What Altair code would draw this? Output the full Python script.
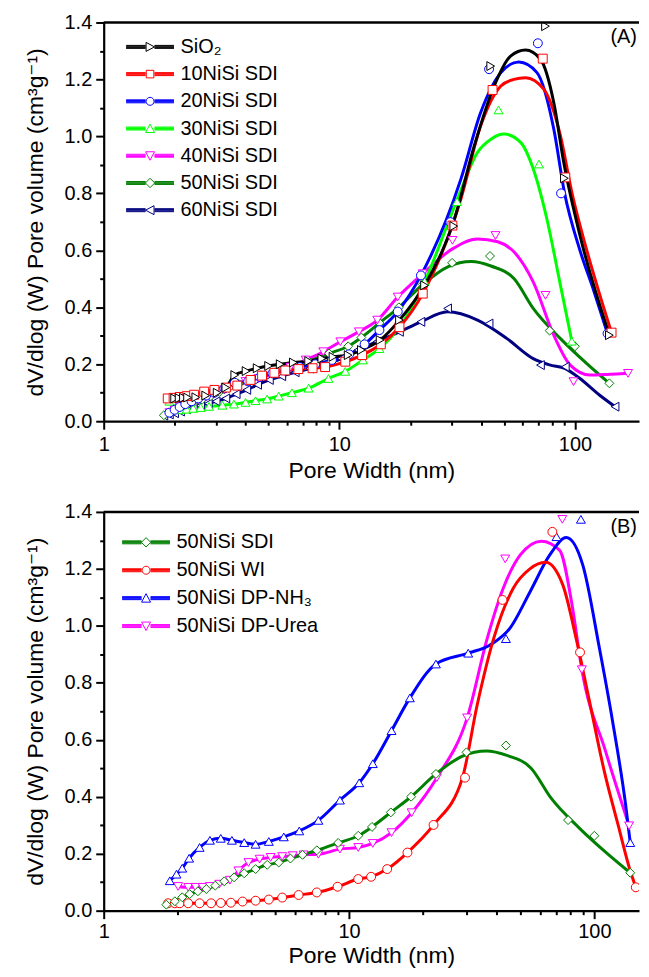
import altair as alt
import pandas as pd

FONT = "Liberation Sans, Arial, DejaVu Sans, sans-serif"

# ---------------- Panel A data ----------------
A_series = ["SiO₂", "10NiSi SDI", "20NiSi SDI", "30NiSi SDI", "40NiSi SDI", "50NiSi SDI", "60NiSi SDI"]
A_colors = ["#000000", "#ff0000", "#0000ff", "#00ff00", "#ff00ff", "#008000", "#000080"]
A_shapes = ["triangle-right", "square", "circle", "triangle-up", "triangle-down", "diamond", "triangle-left"]

sio2_x = [2.0, 2.09, 2.18, 2.27, 2.46, 2.71, 3.03, 3.3, 3.6, 4.02, 4.48, 5.01, 5.61, 6.38, 7.41, 8.43, 9.4, 10.9, 12.4, 14.9, 18.0, 23.0, 30.6, 43.9, 75.0, 90.2, 140]
sio2_y = [0.080, 0.081, 0.082, 0.083, 0.084, 0.090, 0.100, 0.118, 0.162, 0.176, 0.186, 0.194, 0.200, 0.206, 0.211, 0.220, 0.226, 0.232, 0.250, 0.285, 0.355, 0.477, 0.685, 1.247, 1.387, 0.853, 0.302]
sio2_cx = [23.0, 30.8, 37.4, 45.4, 53.3, 61.7, 71.4, 81.3, 89.6, 105.2, 140]
sio2_cy = [0.477, 0.71, 0.967, 1.177, 1.282, 1.303, 1.271, 1.119, 0.909, 0.65, 0.302]

ni10_x = [1.87, 1.98, 2.1, 2.25, 2.42, 2.67, 2.95, 3.3, 3.69, 4.2, 4.7, 5.3, 5.9, 6.7, 7.7, 8.7, 10.6, 12.5, 15.0, 18.0, 22.6, 30.2, 44.7, 73.0, 91.0, 143]
ni10_y = [0.080, 0.082, 0.085, 0.088, 0.093, 0.104, 0.110, 0.118, 0.125, 0.145, 0.160, 0.170, 0.178, 0.183, 0.186, 0.190, 0.209, 0.232, 0.270, 0.330, 0.448, 0.687, 1.163, 1.273, 0.856, 0.311]
ni10_cx = [22.6, 32.8, 39.8, 48.5, 55.0, 61.7, 73.7, 86.8, 97.0, 112, 127, 143]
ni10_cy = [0.448, 0.78, 1.037, 1.177, 1.200, 1.206, 1.166, 1.002, 0.804, 0.603, 0.448, 0.311]

ni20_x = [1.9, 2.0, 2.1, 2.22, 2.36, 2.52, 2.72, 2.95, 3.25, 3.6, 4.1, 4.6, 5.2, 5.9, 6.8, 7.9, 9.3, 11.0, 12.8, 14.8, 17.7, 22.2, 29.6, 43.2, 69.6, 87.3, 137.5]
ni20_y = [0.030, 0.040, 0.050, 0.060, 0.070, 0.080, 0.090, 0.100, 0.115, 0.135, 0.140, 0.155, 0.168, 0.178, 0.190, 0.200, 0.215, 0.235, 0.270, 0.320, 0.385, 0.512, 0.699, 1.236, 1.327, 0.800, 0.308]
ni20_cx = [22.2, 32.8, 39.8, 48.5, 57.8, 69.0, 81.3, 90.2, 105, 120, 137.5]
ni20_cy = [0.512, 0.85, 1.084, 1.224, 1.261, 1.224, 1.026, 0.804, 0.60, 0.46, 0.308]

ni30_x = [1.9, 2.0, 2.12, 2.25, 2.4, 2.58, 2.8, 3.19, 3.57, 4.0, 4.41, 4.94, 5.53, 6.29, 7.41, 8.99, 10.6, 12.6, 14.8, 18.0, 23.0, 31.6, 47.4, 70.4, 97.0]
ni30_y = [0.070, 0.045, 0.040, 0.042, 0.045, 0.048, 0.052, 0.056, 0.060, 0.066, 0.072, 0.078, 0.088, 0.100, 0.116, 0.150, 0.175, 0.215, 0.255, 0.330, 0.490, 0.771, 1.093, 0.903, 0.281]
ni30_cx = [23.0, 31.7, 38.6, 44.0, 50.0, 58.8, 66.5, 76.0, 86.8, 97.0]
ni30_cy = [0.49, 0.78, 0.944, 0.99, 1.008, 0.979, 0.886, 0.71, 0.477, 0.281]

ni40_x = [1.9, 2.0, 2.1, 2.22, 2.36, 2.52, 2.72, 2.95, 3.25, 3.6, 4.0, 4.54, 5.35, 6.2, 7.2, 8.55, 10.1, 12.1, 14.5, 17.7, 22.6, 30.2, 46.0, 75.0, 98.6, 168]
ni40_y = [0.030, 0.040, 0.050, 0.058, 0.066, 0.075, 0.085, 0.095, 0.110, 0.125, 0.140, 0.150, 0.168, 0.190, 0.215, 0.244, 0.279, 0.314, 0.355, 0.436, 0.518, 0.635, 0.652, 0.442, 0.139, 0.168]
ni40_cx = [22.6, 30.2, 38.6, 47.0, 55.2, 66.5, 81.3, 95.5, 116, 141, 168]
ni40_cy = [0.518, 0.605, 0.64, 0.63, 0.594, 0.489, 0.302, 0.197, 0.162, 0.165, 0.168]

ni50_x = [1.80, 1.95, 2.09, 2.24, 2.42, 2.62, 2.85, 3.1, 3.4, 3.74, 4.16, 4.64, 5.17, 5.77, 6.46, 7.39, 9.03, 10.9, 12.4, 14.8, 17.9, 22.6, 30.1, 43.6, 78.1, 100, 140]
ni50_y = [0.021, 0.033, 0.047, 0.058, 0.068, 0.076, 0.088, 0.103, 0.117, 0.131, 0.146, 0.161, 0.169, 0.183, 0.196, 0.212, 0.238, 0.263, 0.294, 0.345, 0.400, 0.480, 0.556, 0.580, 0.318, 0.263, 0.133]
ni50_cx = [22.6, 29.0, 36.3, 44.0, 55.2, 66.5, 86.8, 112, 140]
ni50_cy = [0.48, 0.543, 0.561, 0.545, 0.50, 0.396, 0.29, 0.203, 0.133]

ni60_x = [1.8, 1.9, 2.0, 2.12, 2.25, 2.4, 2.58, 2.78, 3.0, 3.3, 3.65, 4.05, 4.5, 5.05, 5.7, 6.5, 7.5, 8.7, 10.2, 12.0, 14.5, 18.0, 22.2, 28.8, 43.2, 71.4, 91.0, 148]
ni60_y = [0.020, 0.024, 0.028, 0.034, 0.042, 0.048, 0.055, 0.062, 0.070, 0.080, 0.095, 0.110, 0.128, 0.145, 0.158, 0.172, 0.185, 0.200, 0.220, 0.250, 0.280, 0.314, 0.349, 0.396, 0.343, 0.197, 0.191, 0.051]
ni60_cx = [22.2, 28.8, 38.6, 51.5, 66.5, 78.0, 91.0, 105, 127, 148]
ni60_cy = [0.349, 0.384, 0.355, 0.29, 0.22, 0.198, 0.185, 0.15, 0.092, 0.051]

# ---------------- Panel B data ----------------
B_series = ["50NiSi SDI", "50NiSi WI", "50NiSi DP-NH₃", "50NiSi DP-Urea"]
B_colors = ["#008000", "#ff0000", "#0000ff", "#ff00ff"]
B_shapes = ["diamond", "circle", "triangle-up", "triangle-down"]

wi_x = [1.83, 1.95, 2.04, 2.21, 2.46, 2.74, 3.0, 3.3, 3.68, 4.16, 4.71, 5.34, 6.23, 7.39, 8.98, 10.9, 12.3, 14.3, 17.3, 22.1, 29.7, 42.2, 67.4, 87.4, 147.5]
wi_y = [0.026, 0.026, 0.026, 0.026, 0.026, 0.026, 0.027, 0.028, 0.032, 0.035, 0.039, 0.046, 0.055, 0.064, 0.084, 0.111, 0.119, 0.146, 0.204, 0.301, 0.467, 1.091, 1.330, 0.907, 0.082]
wi_cx = [22.1, 29.0, 33.3, 38.9, 46.7, 54.6, 63.2, 74.4, 84.2, 95.5, 109.7, 125, 140, 147.5]
wi_cy = [0.301, 0.467, 0.723, 0.957, 1.132, 1.20, 1.223, 1.143, 0.957, 0.735, 0.49, 0.30, 0.14, 0.082]

nh3_x = [1.86, 1.98, 2.09, 2.23, 2.46, 2.71, 3.0, 3.33, 3.74, 4.16, 4.71, 5.42, 6.27, 7.5, 9.18, 11.0, 12.5, 14.9, 17.7, 22.6, 30.6, 43.6, 70.1, 88.1, 140]
nh3_y = [0.105, 0.128, 0.149, 0.184, 0.222, 0.247, 0.254, 0.247, 0.239, 0.233, 0.243, 0.259, 0.280, 0.317, 0.388, 0.449, 0.516, 0.632, 0.747, 0.866, 0.904, 0.955, 1.313, 1.374, 0.239]
nh3_cx = [30.6, 37.6, 45.3, 54.7, 65.7, 76.8, 89.7, 104.8, 118.6, 134, 140]
nh3_cy = [0.904, 0.933, 0.992, 1.12, 1.248, 1.31, 1.213, 0.922, 0.665, 0.373, 0.239]

urea_x = [2.01, 2.21, 2.37, 2.53, 2.71, 2.96, 3.27, 3.54, 3.89, 4.32, 4.79, 5.34, 5.89, 6.53, 7.5, 9.18, 10.9, 12.5, 14.9, 18.0, 22.8, 30.3, 43.3, 74.0, 88.9, 138.5]
urea_y = [0.085, 0.082, 0.082, 0.082, 0.085, 0.093, 0.107, 0.140, 0.169, 0.181, 0.187, 0.190, 0.193, 0.196, 0.198, 0.216, 0.222, 0.236, 0.274, 0.344, 0.467, 0.677, 1.235, 1.374, 0.846, 0.298]
urea_cx = [22.8, 30.3, 36.6, 42.5, 49.8, 60.8, 72.2, 81.1, 88.9, 111, 138.5]
urea_cy = [0.467, 0.677, 0.957, 1.132, 1.248, 1.297, 1.265, 1.073, 0.846, 0.56, 0.298]

X_TICKS = [1, 2, 3, 4, 5, 6, 7, 8, 9, 10, 20, 30, 40, 50, 60, 70, 80, 90, 100]
Y_TICKS = [round(i * 0.1, 1) for i in range(15)]

A_data = {
    "SiO₂": (sio2_x, sio2_y, sio2_cx, sio2_cy),
    "10NiSi SDI": (ni10_x, ni10_y, ni10_cx, ni10_cy),
    "20NiSi SDI": (ni20_x, ni20_y, ni20_cx, ni20_cy),
    "30NiSi SDI": (ni30_x, ni30_y, ni30_cx, ni30_cy),
    "40NiSi SDI": (ni40_x, ni40_y, ni40_cx, ni40_cy),
    "50NiSi SDI": (ni50_x, ni50_y, ni50_cx, ni50_cy),
    "60NiSi SDI": (ni60_x, ni60_y, ni60_cx, ni60_cy),
}
B_data = {
    "50NiSi SDI": (ni50_x, ni50_y, ni50_cx, ni50_cy),
    "50NiSi WI": (wi_x, wi_y, wi_cx, wi_cy),
    "50NiSi DP-NH₃": (nh3_x, nh3_y, nh3_cx, nh3_cy),
    "50NiSi DP-Urea": (urea_x, urea_y, urea_cx, urea_cy),
}


def legend_path(shape):
    g = 0.45
    line = "".join(
        f"M-2.4,{d}H-{g}M{g},{d}H2.4" for d in (-0.15, -0.075, 0, 0.075, 0.15)
    )
    marks = {
        "triangle-right": "M-0.4,-0.45L0.45,0L-0.4,0.45Z",
        "triangle-left": "M0.4,-0.45L-0.45,0L0.4,0.45Z",
        "triangle-up": "M-0.45,0.4L0,-0.45L0.45,0.4Z",
        "triangle-down": "M-0.45,-0.4L0,0.45L0.45,-0.4Z",
        "square": "M-0.38,-0.38H0.38V0.38H-0.38Z",
        "circle": "M0.4,0A0.4,0.4 0 1,1 -0.4,0A0.4,0.4 0 1,1 0.4,0Z",
        "diamond": "M0,-0.47L0.47,0L0,0.47L-0.47,0Z",
    }
    return line + marks[shape]


def panel(series, colors, shapes, data, xmax, tag, W, H, leg_x, leg_y, row_pad, x_lp, x_tp):
    mrows, lrows = [], []
    for name in reversed(series):
        mx, my, cx, cy = data[name]
        for x, y in zip(mx, my):
            mrows.append({"series": name, "x": x, "y": y})
        pts = [(x, y) for x, y in zip(mx, my) if x < cx[0]] + list(zip(cx, cy))
        for x, y in pts:
            lrows.append({"series": name, "x": x, "y": y})
    mdf = pd.DataFrame(mrows)
    ldf = pd.DataFrame(lrows)

    axis_common = dict(
        domainColor="black", domainWidth=2.2, tickColor="black", tickWidth=2,
        labelColor="black", labelFont=FONT, labelFontSize=20,
        titleFont=FONT, titleFontSize=23, titleFontWeight="normal", titleColor="black",
        grid=False, labelFlush=False, labelOverlap=False,
    )
    xt = [v for v in X_TICKS if v <= xmax]
    xaxis = alt.Axis(
        values=xt,
        labelExpr="datum.value == 1 || datum.value == 10 || datum.value == 100 ? datum.value + '' : ''",
        tickSize={"condition": {"test": "datum.value == 1 || datum.value == 10 || datum.value == 100", "value": 8}, "value": 4},
        labelPadding=x_lp, titlePadding=x_tp, **axis_common,
    )
    ytest = "abs(datum.value * 5 - round(datum.value * 5)) < 0.001"
    yaxis = alt.Axis(
        values=Y_TICKS,
        labelExpr=f"{ytest} ? format(datum.value, '.1f') : ''",
        tickSize={"condition": {"test": ytest, "value": 8}, "value": 4},
        labelPadding=4, titlePadding=17, **axis_common,
    )
    X = alt.X("x:Q", scale=alt.Scale(type="log", domain=[1, xmax], nice=False), axis=xaxis, title="Pore Width (nm)")
    Y = alt.Y("y:Q", scale=alt.Scale(domain=[0, 1.4], nice=False, zero=False), axis=yaxis,
              title="dV/dlog (W) Pore volume (cm³g⁻¹)")

    lines = alt.Chart(ldf).mark_line(interpolate="monotone", strokeWidth=3, clip=True).encode(
        x=X, y=Y,
        color=alt.Color("series:N", scale=alt.Scale(domain=series, range=colors), legend=None),
    )
    points = alt.Chart(mdf).mark_point(filled=True, fill="white", size=80, strokeWidth=1, opacity=1, clip=True).encode(
        x=X, y=Y,
        stroke=alt.Stroke("series:N", scale=alt.Scale(domain=series, range=colors), legend=None),
        shape=alt.Shape("series:N", scale=alt.Scale(domain=series, range=shapes), legend=None),
    )
    leg = alt.Legend(
        title=None, orient="none", legendX=leg_x, legendY=leg_y, padding=0,
        symbolSize=400, symbolStrokeWidth=1, symbolOpacity=1, labelFont=FONT, labelFontSize=20,
        labelColor="black", labelOffset=20, rowPadding=row_pad, symbolFillColor="transparent",
    )
    legend_layer = alt.Chart(mdf).mark_point(filled=False, strokeWidth=1, opacity=1, clip=True).encode(
        x=alt.value(-300), y=alt.value(-300),
        color=alt.Color("series:N", scale=alt.Scale(domain=series, range=colors), legend=leg),
        shape=alt.Shape("series:N", scale=alt.Scale(domain=series, range=[legend_path(s) for s in shapes]), legend=leg),
    )
    border = alt.Chart(pd.DataFrame({"a": [0]})).mark_rule(color="black", strokeWidth=2.5).encode(
        x=alt.value(0), x2=alt.value(W), y=alt.value(0)
    )
    label = alt.Chart(pd.DataFrame({"t": [tag]})).mark_text(
        align="right", baseline="middle", fontSize=20, font=FONT, color="black"
    ).encode(x=alt.value(W - 2), y=alt.value(15), text="t:N")

    return alt.layer(lines, points, legend_layer, border, label).resolve_scale(
        color="independent", shape="independent", stroke="independent"
    ).properties(width=W, height=H)


pA = panel(A_series, A_colors, A_shapes, A_data, 187, "(A)", 537, 400, 36, 14, 6.3, 5, 5)
pB = panel(B_series, B_colors, B_shapes, B_data, 152, "(B)", 537, 400, 32, 20, 7, 3, 3)

chart = alt.vconcat(pA, pB, spacing=20).properties(
    padding={"left": 16, "top": 3, "right": 0, "bottom": 0}
).configure_view(stroke=None)

chart.save("out.html", embed_options={"renderer": "svg", "actions": False})
